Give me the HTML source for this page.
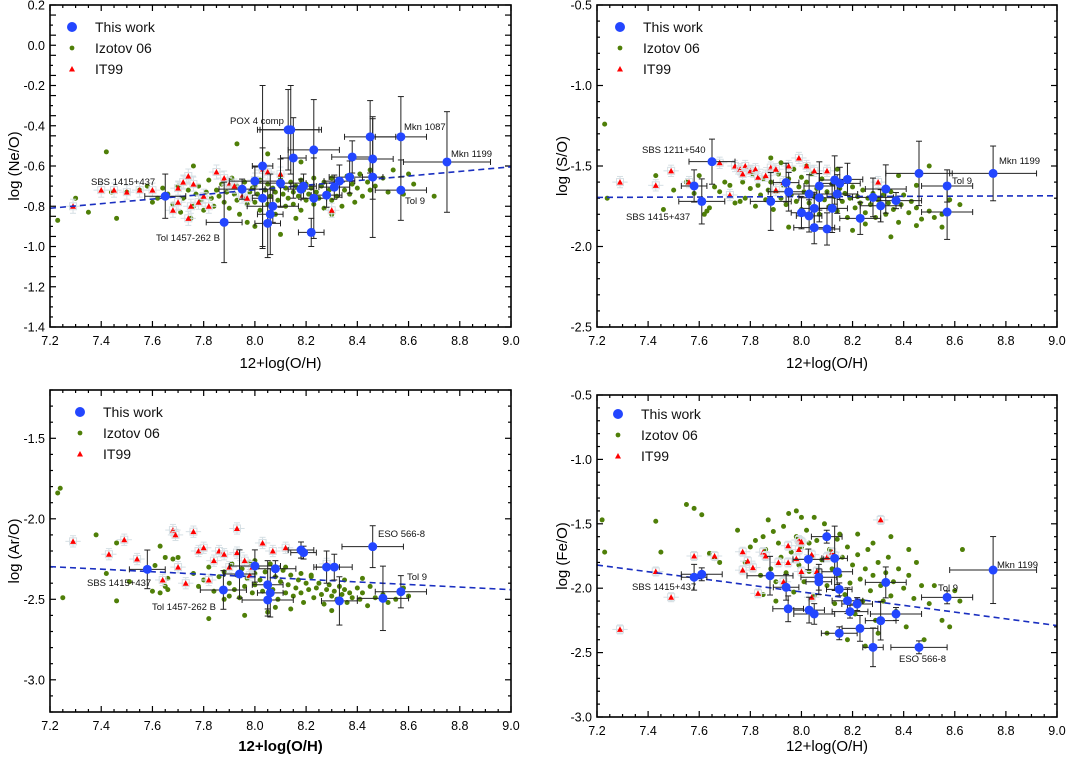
<!DOCTYPE html>
<html><head><meta charset="utf-8">
<style>
html,body{margin:0;padding:0;background:#fff;}
svg{display:block;font-family:"Liberation Sans",Arial,sans-serif;}
</style></head>
<body>
<svg id="fig" width="1066" height="763" viewBox="0 0 1066 763" xmlns="http://www.w3.org/2000/svg"></svg>
<script>
// ===== Panel 1: Ne/O =====
const p1ThisX=[7.65,7.88,7.95,8.0,8.03,8.03,8.06,8.05,8.07,8.10,8.13,8.14,8.15,8.18,8.19,8.23,8.23,8.22,8.28,8.31,8.33,8.38,8.37,8.45,8.46,8.46,8.57,8.57,8.75];
const p1ThisY=[-0.75,-0.88,-0.715,-0.675,-0.60,-0.76,-0.84,-0.885,-0.80,-0.685,-0.42,-0.42,-0.56,-0.715,-0.70,-0.52,-0.76,-0.93,-0.745,-0.705,-0.675,-0.555,-0.655,-0.455,-0.565,-0.655,-0.455,-0.72,-0.58];
const p1ThisXe=[0.08,0.07,0.09,0.1,0.04,0.04,0.05,0.05,0.1,0.1,0.12,0.12,0.05,0.05,0.05,0.1,0.05,0.05,0.06,0.06,0.06,0.08,0.08,0.1,0.08,0.04,0.1,0.1,0.17];
const p1ThisYe=[0.11,0.2,0.05,0.07,0.4,0.25,0.2,0.17,0.08,0.12,0.2,0.22,0.2,0.05,0.06,0.25,0.2,0.07,0.06,0.06,0.08,0.08,0.08,0.18,0.2,0.3,0.2,0.15,0.25];
const p1Red=[[7.29,-0.8],[7.4,-0.72],[7.45,-0.72],[7.5,-0.73],[7.55,-0.72],[7.6,-0.72],[7.7,-0.71],[7.72,-0.68],[7.74,-0.65],[7.76,-0.69],[7.78,-0.78],[7.7,-0.78],[7.68,-0.82],[7.75,-0.80],[7.8,-0.75],[7.82,-0.80],[7.85,-0.63],[7.88,-0.66],[7.9,-0.69],[7.92,-0.70],[7.95,-0.75],[7.97,-0.76],[8.0,-0.67],[8.03,-0.62],[8.05,-0.63],[8.1,-0.64],[7.74,-0.86],[8.3,-0.82]];
const p1Green=[[7.23,-0.87],[7.3,-0.76],[7.35,-0.83],[7.42,-0.53],[7.44,-0.73],[7.46,-0.86],[7.5,-0.73],[7.55,-0.72],[7.58,-0.70],[7.6,-0.78],[7.62,-0.76],[7.64,-0.71],[7.66,-0.74],[7.68,-0.79],[7.7,-0.7],[7.71,-0.83],[7.72,-0.76],[7.74,-0.72],[7.75,-0.86],[7.76,-0.8],[7.77,-0.74],[7.78,-0.7],[7.79,-0.77],[7.8,-0.82],[7.81,-0.73],[7.82,-0.67],[7.83,-0.76],[7.84,-0.8],[7.85,-0.72],[7.86,-0.75],[7.87,-0.69],[7.88,-0.78],[7.89,-0.73],[7.9,-0.81],[7.91,-0.66],[7.92,-0.74],[7.93,-0.77],[7.93,-0.7],[7.94,-0.84],[7.95,-0.72],[7.96,-0.76],[7.96,-0.68],[7.97,-0.79],[7.98,-0.73],[7.99,-0.71],[8.0,-0.78],[8.0,-0.7],[8.01,-0.74],[8.02,-0.82],[8.02,-0.67],[8.03,-0.76],[8.04,-0.72],[8.05,-0.79],[8.05,-0.69],[8.06,-0.75],[8.07,-0.71],[8.08,-0.84],[8.08,-0.73],[8.09,-0.77],[8.1,-0.7],[8.1,-0.66],[8.11,-0.74],[8.12,-0.8],[8.12,-0.71],[8.13,-0.76],[8.14,-0.68],[8.15,-0.73],[8.15,-0.79],[8.16,-0.7],[8.17,-0.75],[8.18,-0.67],[8.18,-0.82],[8.19,-0.72],[8.2,-0.77],[8.2,-0.69],[8.21,-0.74],[8.22,-0.71],[8.23,-0.79],[8.23,-0.66],[8.24,-0.73],[8.25,-0.76],[8.26,-0.7],[8.27,-0.81],[8.27,-0.68],[8.28,-0.74],[8.29,-0.72],[8.3,-0.77],[8.3,-0.66],[8.31,-0.7],[8.32,-0.75],[8.33,-0.68],[8.34,-0.8],[8.35,-0.72],[8.36,-0.65],[8.37,-0.74],[8.38,-0.69],[8.39,-0.78],[8.4,-0.71],[8.41,-0.64],[8.42,-0.75],[8.44,-0.68],[8.45,-0.72],[8.47,-0.7],[8.5,-0.66],[8.52,-0.73],[8.54,-0.62],[8.58,-0.74],[8.62,-0.69],[8.7,-0.75],[7.93,-0.49],[8.05,-0.54],[8.18,-0.58],[8.0,-0.9],[8.1,-0.94],[7.97,-0.88],[8.3,-0.84],[8.16,-0.86],[7.76,-0.6],[8.45,-0.62],[8.6,-0.64]];
const p1Fit=[[7.2,-0.81],[9.0,-0.604]];

// ===== Panel 2: S/O =====
const p2ThisX=[7.65,7.58,7.61,7.88,7.94,7.95,8.0,8.03,8.03,8.05,8.05,8.07,8.07,8.10,8.12,8.13,8.14,8.15,8.18,8.23,8.28,8.31,8.33,8.37,8.46,8.57,8.57,8.75];
const p2ThisY=[-1.473,-1.624,-1.72,-1.72,-1.603,-1.66,-1.79,-1.674,-1.81,-1.763,-1.883,-1.624,-1.697,-1.891,-1.763,-1.587,-1.674,-1.608,-1.583,-1.825,-1.695,-1.747,-1.643,-1.715,-1.546,-1.624,-1.786,-1.546];
const p2ThisXe=[0.09,0.05,0.09,0.08,0.05,0.08,0.04,0.07,0.05,0.05,0.08,0.06,0.08,0.05,0.06,0.06,0.08,0.08,0.06,0.08,0.08,0.08,0.08,0.1,0.13,0.1,0.1,0.17];
const p2ThisYe=[0.14,0.1,0.14,0.18,0.12,0.12,0.1,0.12,0.1,0.1,0.1,0.15,0.15,0.1,0.15,0.15,0.12,0.1,0.1,0.1,0.12,0.1,0.15,0.05,0.2,0.1,0.17,0.17];
const p2Red=[[7.29,-1.6],[7.43,-1.62],[7.49,-1.53],[7.56,-1.6],[7.68,-1.48],[7.72,-1.68],[7.74,-1.5],[7.76,-1.52],[7.78,-1.5],[7.77,-1.55],[7.8,-1.53],[7.82,-1.52],[7.83,-1.57],[7.86,-1.56],[7.88,-1.51],[7.9,-1.52],[7.93,-1.6],[7.95,-1.5],[7.99,-1.45],[8.02,-1.5],[8.05,-1.53],[8.1,-1.53],[8.3,-1.6],[7.9,-1.65]];
const p2Green=[[7.23,-1.24],[7.24,-1.7],[7.43,-1.56],[7.46,-1.77],[7.5,-1.65],[7.55,-1.6],[7.58,-1.67],[7.6,-1.56],[7.62,-1.8],[7.63,-1.78],[7.66,-1.63],[7.68,-1.66],[7.7,-1.6],[7.72,-1.62],[7.74,-1.73],[7.76,-1.72],[7.77,-1.6],[7.78,-1.7],[7.8,-1.64],[7.81,-1.55],[7.82,-1.75],[7.83,-1.62],[7.84,-1.68],[7.85,-1.58],[7.86,-1.71],[7.87,-1.65],[7.88,-1.6],[7.89,-1.77],[7.9,-1.66],[7.91,-1.55],[7.92,-1.7],[7.93,-1.62],[7.94,-1.74],[7.95,-1.58],[7.96,-1.68],[7.97,-1.52],[7.98,-1.72],[7.99,-1.63],[8.0,-1.57],[8.0,-1.77],[8.01,-1.66],[8.02,-1.6],[8.03,-1.73],[8.04,-1.55],[8.05,-1.69],[8.06,-1.64],[8.07,-1.8],[8.08,-1.58],[8.09,-1.71],[8.1,-1.66],[8.11,-1.75],[8.12,-1.61],[8.13,-1.69],[8.14,-1.78],[8.15,-1.64],[8.16,-1.72],[8.17,-1.67],[8.18,-1.82],[8.19,-1.7],[8.2,-1.63],[8.21,-1.76],[8.22,-1.69],[8.23,-1.73],[8.24,-1.65],[8.25,-1.79],[8.26,-1.7],[8.27,-1.74],[8.28,-1.67],[8.29,-1.82],[8.3,-1.71],[8.31,-1.76],[8.32,-1.68],[8.33,-1.8],[8.34,-1.73],[8.35,-1.66],[8.36,-1.77],[8.37,-1.7],[8.38,-1.85],[8.39,-1.74],[8.4,-1.68],[8.42,-1.79],[8.43,-1.72],[8.45,-1.76],[8.47,-1.83],[8.5,-1.78],[8.52,-1.82],[8.55,-1.8],[8.58,-1.71],[8.62,-1.74],[7.88,-1.45],[7.92,-1.48],[8.02,-1.5],[8.14,-1.52],[8.5,-1.5],[8.38,-1.56],[8.45,-1.62],[8.1,-1.88],[8.2,-1.9],[8.35,-1.94],[8.25,-1.86],[8.45,-1.87],[8.55,-1.88],[7.95,-1.88],[7.64,-1.76]];
const p2Fit=[[7.2,-1.695],[9.0,-1.685]];

// ===== Panel 3: Ar/O =====
const p3ThisX=[7.58,7.877,7.94,8.0,8.05,8.05,8.06,8.08,8.18,8.19,8.28,8.31,8.33,8.46,8.50,8.57];
const p3ThisY=[-2.314,-2.442,-2.343,-2.293,-2.41,-2.504,-2.46,-2.31,-2.194,-2.21,-2.30,-2.30,-2.51,-2.173,-2.494,-2.453];
const p3ThisXe=[0.07,0.09,0.06,0.1,0.06,0.1,0.05,0.08,0.05,0.05,0.05,0.07,0.07,0.12,0.1,0.1];
const p3ThisYe=[0.12,0.12,0.15,0.1,0.15,0.1,0.15,0.05,0.05,0.04,0.1,0.08,0.15,0.13,0.2,0.1];
const p3Red=[[7.29,-2.14],[7.43,-2.22],[7.49,-2.13],[7.54,-2.25],[7.64,-2.38],[7.68,-2.07],[7.69,-2.1],[7.73,-2.4],[7.76,-2.08],[7.7,-2.3],[7.78,-2.2],[7.8,-2.18],[7.82,-2.38],[7.84,-2.26],[7.86,-2.2],[7.88,-2.22],[7.9,-2.3],[7.93,-2.06],[7.93,-2.21],[7.96,-2.26],[7.98,-2.35],[8.03,-2.15],[8.07,-2.2],[8.12,-2.18],[8.28,-2.28],[7.99,-2.3]];
const p3Green=[[7.23,-1.84],[7.24,-1.81],[7.25,-2.49],[7.38,-2.1],[7.42,-2.34],[7.46,-2.15],[7.46,-2.51],[7.51,-2.39],[7.6,-2.45],[7.61,-2.29],[7.63,-2.46],[7.63,-2.17],[7.65,-2.24],[7.65,-2.42],[7.66,-2.37],[7.66,-2.44],[7.68,-2.25],[7.7,-2.24],[7.76,-2.34],[7.78,-2.42],[7.8,-2.38],[7.82,-2.3],[7.84,-2.45],[7.86,-2.36],[7.88,-2.33],[7.88,-2.5],[7.9,-2.4],[7.91,-2.28],[7.92,-2.44],[7.93,-2.35],[7.94,-2.49],[7.95,-2.31],[7.96,-2.42],[7.97,-2.37],[7.98,-2.27],[7.99,-2.46],[8.0,-2.34],[8.0,-2.41],[8.01,-2.3],[8.02,-2.38],[8.03,-2.45],[8.04,-2.33],[8.05,-2.4],[8.06,-2.28],[8.07,-2.44],[8.08,-2.36],[8.09,-2.5],[8.1,-2.39],[8.11,-2.32],[8.12,-2.46],[8.13,-2.41],[8.14,-2.35],[8.15,-2.48],[8.16,-2.43],[8.17,-2.38],[8.18,-2.46],[8.19,-2.52],[8.2,-2.4],[8.21,-2.44],[8.22,-2.36],[8.23,-2.49],[8.24,-2.43],[8.25,-2.4],[8.26,-2.47],[8.27,-2.53],[8.28,-2.44],[8.29,-2.41],[8.3,-2.48],[8.31,-2.45],[8.32,-2.5],[8.33,-2.42],[8.34,-2.47],[8.35,-2.44],[8.36,-2.52],[8.37,-2.46],[8.38,-2.49],[8.4,-2.43],[8.41,-2.5],[8.42,-2.46],[8.44,-2.54],[8.45,-2.42],[8.47,-2.49],[8.5,-2.47],[8.52,-2.52],[8.55,-2.5],[8.58,-2.43],[8.6,-2.48],[7.96,-2.6],[7.82,-2.62],[8.05,-2.58],[8.14,-2.56],[8.3,-2.57],[8.22,-2.35],[8.35,-2.38],[8.12,-2.3],[8.0,-2.26],[7.9,-2.48],[8.08,-2.55],[8.18,-2.34],[8.42,-2.37]];
const p3Fit=[[7.2,-2.297],[9.0,-2.44]];

// ===== Panel 4: Fe/O =====
const p4ThisX=[7.58,7.61,7.877,7.94,7.948,8.027,8.03,8.05,8.068,8.068,8.099,8.13,8.14,8.148,8.148,8.18,8.19,8.218,8.229,8.28,8.31,8.33,8.37,8.46,8.57,8.75];
const p4ThisY=[-1.915,-1.892,-1.903,-1.993,-2.16,-1.776,-2.17,-2.2,-1.915,-1.95,-1.6,-1.768,-1.872,-2.009,-2.35,-2.097,-2.182,-2.123,-2.312,-2.459,-2.252,-1.955,-2.2,-2.459,-2.071,-1.859];
const p4ThisXe=[0.05,0.08,0.09,0.05,0.06,0.06,0.06,0.08,0.07,0.05,0.06,0.05,0.06,0.05,0.07,0.06,0.07,0.06,0.07,0.04,0.06,0.08,0.1,0.11,0.1,0.17];
const p4ThisYe=[0.1,0.05,0.15,0.1,0.1,0.08,0.1,0.08,0.1,0.1,0.05,0.25,0.1,0.05,0.05,0.1,0.05,0.05,0.1,0.15,0.15,0.12,0.05,0.05,0.05,0.26];
const p4Red=[[7.29,-2.32],[7.43,-1.87],[7.49,-2.07],[7.58,-1.75],[7.66,-1.75],[7.77,-1.717],[7.79,-1.79],[7.81,-1.84],[7.77,-1.86],[7.83,-2.04],[7.85,-1.72],[7.86,-1.75],[7.91,-1.80],[7.93,-1.95],[7.948,-1.67],[7.948,-1.80],[7.98,-1.77],[7.99,-1.626],[8.0,-1.64],[7.99,-1.70],[8.0,-1.87],[8.04,-1.74],[8.04,-2.07],[8.06,-1.87],[8.1,-1.76],[8.12,-1.72],[8.13,-1.75],[8.31,-1.47]];
const p4Green=[[7.22,-1.47],[7.23,-1.72],[7.43,-1.48],[7.45,-1.72],[7.55,-1.35],[7.58,-1.38],[7.61,-1.43],[7.64,-1.73],[7.66,-1.77],[7.68,-1.8],[7.75,-1.55],[7.78,-1.8],[7.8,-1.68],[7.82,-1.63],[7.84,-1.9],[7.85,-1.6],[7.86,-1.7],[7.87,-1.47],[7.88,-1.85],[7.89,-1.56],[7.9,-1.95],[7.91,-1.65],[7.92,-1.76],[7.93,-1.52],[7.94,-1.88],[7.95,-1.42],[7.96,-1.72],[7.97,-2.03],[7.98,-1.6],[7.99,-1.82],[8.0,-1.68],[8.01,-1.95],[8.02,-1.55],[8.03,-1.87],[8.04,-1.75],[8.05,-2.06],[8.06,-1.63],[8.07,-1.92],[8.08,-1.78],[8.09,-1.5],[8.1,-1.98],[8.11,-1.7],[8.12,-1.85],[8.13,-2.12],[8.14,-1.62],[8.15,-1.9],[8.16,-1.76],[8.17,-2.05],[8.18,-1.68],[8.19,-1.96],[8.2,-1.82],[8.21,-2.2],[8.22,-1.74],[8.23,-1.93],[8.24,-2.1],[8.25,-1.85],[8.26,-1.7],[8.27,-2.02],[8.28,-1.9],[8.29,-2.25],[8.3,-1.8],[8.31,-1.98],[8.32,-2.1],[8.33,-1.88],[8.34,-1.76],[8.35,-2.06],[8.36,-1.95],[8.37,-2.18],[8.38,-1.85],[8.4,-2.0],[8.41,-2.3],[8.42,-1.9],[8.44,-2.08],[8.45,-1.8],[8.47,-1.98],[8.5,-2.12],[8.52,-1.98],[8.55,-2.25],[8.58,-2.3],[8.6,-2.02],[8.62,-2.1],[8.63,-1.7],[8.15,-1.58],[8.22,-1.58],[8.28,-1.65],[8.05,-1.45],[7.98,-1.4],[8.0,-1.45],[8.35,-1.6],[8.42,-1.7],[8.1,-2.35],[8.18,-2.4],[8.25,-2.45],[8.48,-2.4],[8.3,-2.35],[7.9,-2.1],[7.85,-2.05],[8.13,-1.75],[8.03,-1.65]];
const p4Fit=[[7.2,-1.82],[9.0,-2.29]];

const xTickLabels=["7.2","7.4","7.6","7.8","8.0","8.2","8.4","8.6","8.8","9.0"];
const p1YTickLabels=["0.2","0.0","-0.2","-0.4","-0.6","-0.8","-1.0","-1.2","-1.4"];
const p2YTickLabels=["-0.5","-1.0","-1.5","-2.0","-2.5"];
const p3YTickLabels=["-1.5","-2.0","-2.5","-3.0"];
const p4YTickLabels=["-0.5","-1.0","-1.5","-2.0","-2.5","-3.0"];

const NS="http://www.w3.org/2000/svg";
const svg=document.getElementById('fig');
function mk(tag,attrs,parent){const e=document.createElementNS(NS,tag);for(const k in attrs)e.setAttribute(k,attrs[k]);(parent||svg).appendChild(e);return e;}

const panels=[
 {key:'ne-o',L:50,R:511,T:5,B:327,ymin:-1.4,ymax:0.2,yMinor:0.05,yTicks:p1YTickLabels,ytitle:'log (Ne/O)',ytx:14,xtY:368,xtBold:false,
  tx:p1ThisX,ty:p1ThisY,txe:p1ThisXe,tye:p1ThisYe,red:p1Red,green:p1Green,fit:p1Fit,leg:[72,27],
  notes:[["POX 4 comp",230,124],["Mkn 1087",404,130],["Mkn 1199",451,157],["SBS 1415+437",91,185],["Tol 9",405,204],["Tol 1457-262 B",156,241]]},
 {key:'s-o',L:597,R:1057,T:5,B:327,ymin:-2.5,ymax:-0.5,yMinor:0.1,yTicks:p2YTickLabels,ytitle:'log (S/O)',ytx:562,xtY:368,xtBold:false,
  tx:p2ThisX,ty:p2ThisY,txe:p2ThisXe,tye:p2ThisYe,red:p2Red,green:p2Green,fit:p2Fit,leg:[620,27],
  notes:[["SBS 1211+540",642,153],["Mkn 1199",999,164],["Tol 9",952,184],["SBS 1415+437",626,220]]},
 {key:'ar-o',L:50,R:511,T:390,B:712,ymin:-3.2,ymax:-1.2,yMinor:0.1,yTicks:p3YTickLabels,ytitle:'log (Ar/O)',ytx:14,xtY:751,xtBold:true,
  tx:p3ThisX,ty:p3ThisY,txe:p3ThisXe,tye:p3ThisYe,red:p3Red,green:p3Green,fit:p3Fit,leg:[80,412],
  notes:[["ESO 566-8",378,537],["Tol 9",407,580],["SBS 1415+437",87,586],["Tol 1457-262 B",152,610]]},
 {key:'fe-o',L:597,R:1057,T:395,B:717,ymin:-3.0,ymax:-0.5,yMinor:0.1,yTicks:p4YTickLabels,ytitle:'log (Fe/O)',ytx:562,xtY:751,xtBold:false,
  tx:p4ThisX,ty:p4ThisY,txe:p4ThisXe,tye:p4ThisYe,red:p4Red,green:p4Green,fit:p4Fit,leg:[618,414],
  notes:[["Mkn 1199",997,568],["Tol 9",938,591],["SBS 1415+437",632,590],["ESO 566-8",899,662]]}
];

panels.forEach(p=>{
  const g=mk('g',{});
  
  
  const X=v=>p.L+(v-7.2)/1.8*(p.R-p.L);
  const Y=v=>p.T+(p.ymax-v)/(p.ymax-p.ymin)*(p.B-p.T);
  const tg=mk('g',{stroke:'#000','stroke-width':1.2},g);
  
  
  for(let i=0;i<=36;i++){const v=7.2+i*0.05;const x=X(v);const len=(i%4===0)?6:3;
    mk('line',{x1:x,y1:p.B,x2:x,y2:p.B-len},tg);mk('line',{x1:x,y1:p.T,x2:x,y2:p.T+len},tg);}
  const nMin=Math.round((p.ymax-p.ymin)/p.yMinor);
  for(let i=0;i<=nMin;i++){const v=p.ymax-i*p.yMinor;const y=Y(v);
    const maj=Math.abs(Math.round(v*10)%(p.yMinor<0.1?2:5))<1e-6;const len=maj?6:3;
    mk('line',{x1:p.L,y1:y,x2:p.L+len,y2:y},tg);mk('line',{x1:p.R,y1:y,x2:p.R-len,y2:y},tg);}
  xTickLabels.forEach(s=>{const t=mk('text',{x:X(parseFloat(s)),y:p.B+18,'text-anchor':'middle','font-size':12.5,'font-weight':500,fill:'#000'},g);t.textContent=s;
    
    });
  p.yTicks.forEach(s=>{const t=mk('text',{x:p.L-5,y:Y(parseFloat(s))+4.5,'text-anchor':'end','font-size':12.5,'font-weight':500,fill:'#000'},g);t.textContent=s;
    
    });
  const xt=mk('text',{x:(p.L+p.R)/2,y:p.xtY,'text-anchor':'middle','font-size':15,'font-weight':p.xtBold?'bold':'normal',fill:'#000'},g);xt.textContent='12+log(O/H)';
  
  
  const ym=(p.T+p.B)/2;
  const yt=mk('text',{x:p.ytx,y:ym,'text-anchor':'middle','font-size':15,fill:'#000',transform:`rotate(-90 ${p.ytx} ${ym}) translate(0 5)`},g);yt.textContent=p.ytitle;
  
  
  const cid='clip-'+p.key;
  const cp=mk('clipPath',{id:cid},g);mk('rect',{x:p.L,y:p.T,width:p.R-p.L,height:p.B-p.T},cp);
  const data=mk('g',{'clip-path':`url(#${cid})`},g);
  
  
  p.green.forEach(d=>{const c=mk('circle',{cx:X(d[0]),cy:Y(d[1]),r:2.5,fill:'#4f7f08'},data);
    
    });
  p.red.forEach(d=>{const x=X(d[0]),y=Y(d[1]);const ex=X(d[0]+0.03)-x,ey=Y(d[1])-Y(d[1]+0.035);
    const eg=mk('g',{stroke:'#d5dfe4','stroke-width':1,fill:'none'},data);
    mk('line',{x1:x-ex,y1:y,x2:x+ex,y2:y},eg);mk('line',{x1:x,y1:y-ey,x2:x,y2:y+ey},eg);
    mk('line',{x1:x-3,y1:y-ey,x2:x+3,y2:y-ey},eg);mk('line',{x1:x-3,y1:y+ey,x2:x+3,y2:y+ey},eg);
    mk('rect',{x:x-3.5,y:y-3.5,width:7,height:7},eg);
    const t=mk('path',{d:`M${x-3} ${y+2.5} L${x+3} ${y+2.5} L${x} ${y-3} Z`,fill:'#f00'},data);
    
    });
  const fl=mk('line',{x1:X(p.fit[0][0]),y1:Y(p.fit[0][1]),x2:X(p.fit[1][0]),y2:Y(p.fit[1][1]),stroke:'#1a2fc0','stroke-width':1.6,'stroke-dasharray':'6 4'},data);
  
  
  p.tx.forEach((xv,i)=>{const x=X(xv),y=Y(p.ty[i]);const x1=X(xv-p.txe[i]),x2=X(xv+p.txe[i]);const y1=Y(p.ty[i]+p.tye[i]),y2=Y(p.ty[i]-p.tye[i]);
    const eg=mk('g',{stroke:'#222','stroke-width':1,fill:'none'},data);
    
    
    mk('line',{x1:x1,y1:y,x2:x2,y2:y},eg);mk('line',{x1:x1,y1:y-3,x2:x1,y2:y+3},eg);mk('line',{x1:x2,y1:y-3,x2:x2,y2:y+3},eg);
    mk('line',{x1:x,y1:y1,x2:x,y2:y2},eg);mk('line',{x1:x-3,y1:y1,x2:x+3,y2:y1},eg);mk('line',{x1:x-3,y1:y2,x2:x+3,y2:y2},eg);
  });
  p.tx.forEach((xv,i)=>{const c=mk('circle',{cx:X(xv),cy:Y(p.ty[i]),r:4.5,fill:'#2346ff'},data);
    
    });
  p.notes.forEach(n=>{const t=mk('text',{x:n[1],y:n[2],'font-size':9.5,fill:'#111'},g);t.textContent=n[0];
    
    });
  const fr=mk('rect',{x:p.L,y:p.T,width:p.R-p.L,height:p.B-p.T,fill:'none',stroke:'#000','stroke-width':1.6},g);
  
  
  const lg=mk('g',{},g);
  
  
  const lx=p.leg[0],ly=p.leg[1];
  mk('circle',{cx:lx,cy:ly,r:5,fill:'#2346ff'},lg);
  mk('circle',{cx:lx,cy:ly+21,r:2.4,fill:'#4f7f08'},lg);
  mk('path',{d:`M${lx-3} ${ly+44.5} L${lx+3} ${ly+44.5} L${lx} ${ly+39} Z`,fill:'#f00'},lg);
  [["This work",0],["Izotov 06",21],["IT99",42]].forEach(e=>{const t=mk('text',{x:lx+23,y:ly+e[1]+5,'font-size':14,fill:'#111'},lg);t.textContent=e[0];
    
    });
});
</script>
</body></html>
